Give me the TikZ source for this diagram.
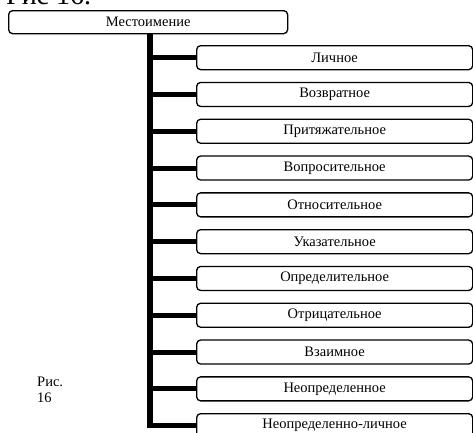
\documentclass[tikz,border=0pt]{standalone}
\usepackage{fontspec}
\setmainfont{Liberation Serif}
\begin{document}
\begin{tikzpicture}[x=1pt,y=-1pt,
  catbox/.style={draw, line width=1.3pt, rounded corners=4pt,
    minimum width=276pt, minimum height=24pt, inner sep=0pt,
    anchor=north west, font=\fontsize{14.5}{16}\selectfont},
  trunk/.style={line width=5.5pt},
  branch/.style={line width=5pt}]
\useasboundingbox (0,0) rectangle (473,432);
\clip (0,0) rectangle (473,432);

% caption at the top edge
\node[anchor=base west, inner sep=0pt, font=\fontsize{28}{30}\selectfont] (cap) at (6,4.5) {Рис 16.};

% root category
\node[catbox, minimum width=279pt, minimum height=23pt] (root) at (8,10) {Местоимение};

% the kinds of pronoun
\foreach \i/\t in {1/Личное, 2/Возвратное, 3/Притяжательное, 4/Вопросительное,
  5/Относительное, 6/Указательное, 7/Определительное, 8/Отрицательное,
  9/Взаимное, 10/Неопределенное, 11/Неопределенно-личное}
  \node[catbox] (b\i) at (196,{45+36.8*(\i-1)}) {\t};

% trunk and branches
\coordinate (tr) at (150,0);
\draw[trunk] (root.south -| tr) |- (b11.west);
\foreach \i in {1,...,10}
  \draw[branch] (b\i.west -| tr) -- (b\i.west);

% side caption
\node[anchor=base west, align=left, inner sep=0pt, font=\fontsize{14.5}{16}\selectfont] (side) at (37,402) {Рис.\\16};
\end{tikzpicture}
\end{document}
